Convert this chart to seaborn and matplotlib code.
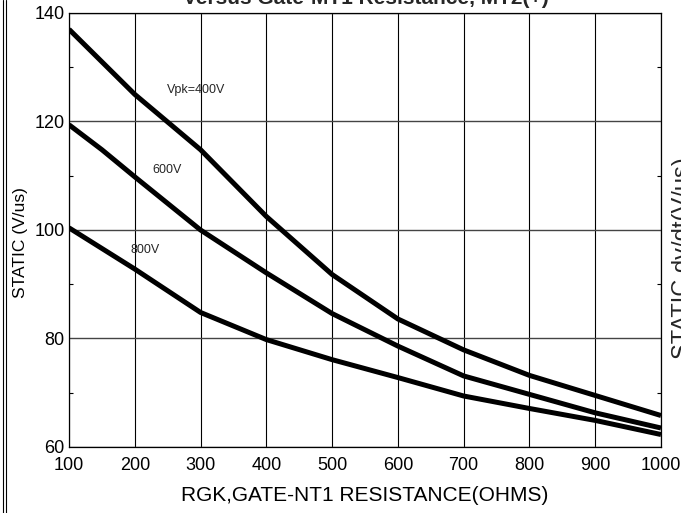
"""
Static dv/dt versus gate resistance chart
"""
import pandas as pd
import numpy as np
import matplotlib
matplotlib.use('Agg')
import matplotlib.pyplot as plt
import seaborn as sns
from matplotlib.lines import Line2D
from matplotlib.ticker import MultipleLocator

# data
resistance = [100, 150, 200, 300, 400, 500, 600, 700, 800, 900, 1000]
dvdt_400v = [137.0, 131.0, 125.0, 114.8, 102.5, 91.8, 83.6, 77.9, 73.2, 69.5, 65.8]
dvdt_600v = [119.4, 114.8, 109.8, 100.0, 92.1, 84.6, 78.6, 73.1, 69.7, 66.3, 63.5]
dvdt_800v = [100.4, 96.6, 92.8, 84.8, 79.8, 76.1, 72.8, 69.4, 67.1, 64.9, 62.3]
curve_names = ['Vpk=400V', '600V', '800V']
x_ticks = [100, 200, 300, 400, 500, 600, 700, 800, 900, 1000]
y_ticks = [60, 80, 100, 120, 140]

sns.set_theme(style='white')
plt.rcParams['font.family'] = ['Liberation Sans', 'DejaVu Sans']

df = pd.DataFrame({
    'R': resistance * 3,
    'dvdt': dvdt_400v + dvdt_600v + dvdt_800v,
    'Vpk': [curve_names[0]] * len(resistance) + [curve_names[1]] * len(resistance)
           + [curve_names[2]] * len(resistance),
})

fig = plt.figure(figsize=(6.81, 5.13), dpi=100)
ax = fig.add_axes([69 / 681, 1 - 447 / 513, 592 / 681, 434 / 513])

sns.lineplot(data=df, x='R', y='dvdt', hue='Vpk', palette=['black'] * 3,
             linewidth=3.6, legend=False, ax=ax, sort=True)
for ln in ax.get_lines():
    ln.set_solid_joinstyle('round')
    ln.set_solid_capstyle('butt')
    ln.set_zorder(3)

ax.set_xlim(100, 1000)
ax.set_ylim(60, 140)
ax.set_xticks(x_ticks)
ax.set_yticks(y_ticks)
ax.yaxis.set_minor_locator(MultipleLocator(10))

# grid
ax.xaxis.grid(True, color='black', linewidth=0.8)
ax.yaxis.grid(True, which='major', color='#444444', linewidth=1.0)
ax.set_axisbelow(True)

for s in ax.spines.values():
    s.set_color('black')
    s.set_linewidth(0.9)
    s.set_visible(True)

ax.tick_params(axis='both', which='major', length=0, labelsize=13, colors='black')
ax.tick_params(axis='x', which='major', pad=7)
ax.tick_params(axis='y', which='major', pad=3)
ax.tick_params(axis='y', which='minor', direction='in', length=3, width=0.8,
               left=True, right=True, color='black')

ax.set_xlabel('RGK,GATE-NT1 RESISTANCE(OHMS)', fontsize=15, color='black')
ax.xaxis.set_label_coords(0.5, -0.09)
ax.set_ylabel('STATIC (V/us)', fontsize=12.5, color='black')
ax.yaxis.set_label_coords(-0.07, 0.47)

# curve labels
ax.text(249, 125.8, 'Vpk=400V', fontsize=9, va='center', ha='left')
ax.text(226, 111.1, '600V', fontsize=9, va='center', ha='left')
ax.text(193, 96.3, '800V', fontsize=9, va='center', ha='left')

# title cut at the top edge, right label cut at the right edge
fig.text(365.5 / 681, 1 - 4 / 513, 'Versus Gate-MT1 Resistance, MT2(+)',
         fontsize=15, fontweight='bold', ha='center', va='baseline')
fig.text(672 / 681, 1 - 258 / 513, 'STATIC dv/dt(V/us)', fontsize=17,
         rotation=90, ha='left', va='center')

# frame lines on the left edge
for xp in [3, 5.5]:
    fig.add_artist(Line2D([xp / 681, xp / 681], [0, 1], transform=fig.transFigure,
                          color='black', linewidth=0.8))

fig.savefig('out.png', dpi=100)
plt.close(fig)
